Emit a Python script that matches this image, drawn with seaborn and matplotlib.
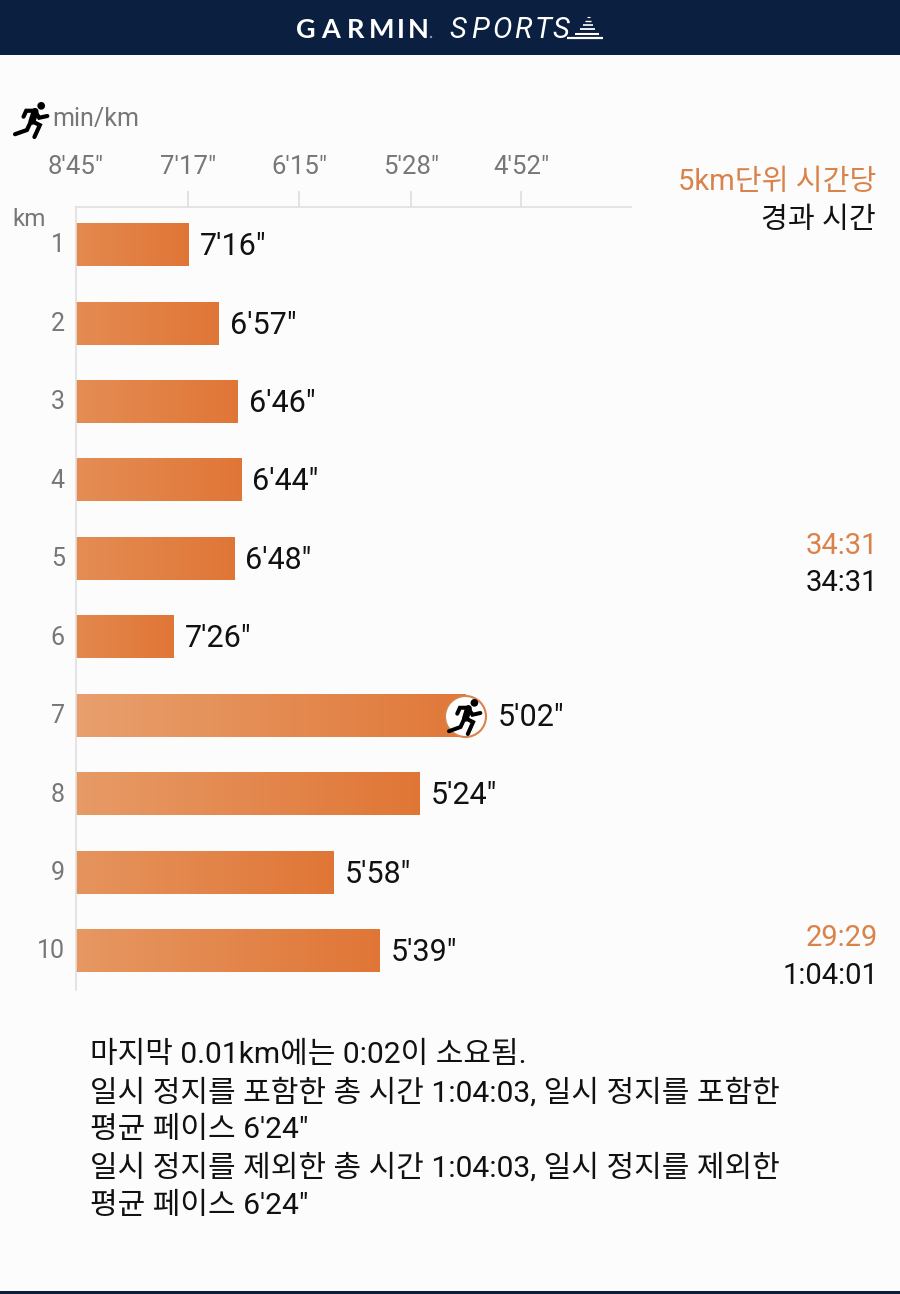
import numpy as np
import pandas as pd
import matplotlib
matplotlib.use("Agg")
import matplotlib.pyplot as plt
import matplotlib.transforms as mtransforms
from matplotlib.patches import Circle, Rectangle
import seaborn as sns

km = ["1", "2", "3", "4", "5", "6", "7", "8", "9", "10"]
pace_labels = ["7'16\"", "6'57\"", "6'46\"", "6'44\"", "6'48\"", "7'26\"", "5'02\"", "5'24\"", "5'58\"", "5'39\""]
pace_sec = [437, 418, 407, 405, 409, 447, 302.5, 325, 359, 340]

tick_labels = ["8'45\"", "7'17\"", "6'15\"", "5'28\"", "4'52\""]
tick_sec = [525, 437, 375, 328, 292]

split_orange = ["34:31", "29:29"]
split_black = ["34:31", "1:04:01"]
notes = [
    "마지막 0.01km에는 0:02이 소요됨.",
    "일시 정지를 포함한 총 시간 1:04:03, 일시 정지를 포함한",
    "평균 페이스 6'24\"",
    "일시 정지를 제외한 총 시간 1:04:03, 일시 정지를 제외한",
    "평균 페이스 6'24\"",
]

BG = "#fcfcfc"
NAVY = "#0b1f41"
ORANGE = np.array([224, 118, 54]) / 255
TAN = np.array([238, 190, 150]) / 255
TEXT_ORANGE = "#d9824a"
GREY = "#777777"
FONT = ["Roboto", "Noto Sans CJK KR", "DejaVu Sans"]

sns.set_theme(style="white")
plt.rcParams["font.family"] = FONT

W, H = 900, 1294
fig = plt.figure(figsize=(W / 100, H / 100), dpi=100, facecolor=BG)


def px_axes(left, top, right, bottom):
    return fig.add_axes([left / W, 1 - bottom / H, (right - left) / W, (bottom - top) / H])


# x axis is linear in speed, the labels are paces
df = pd.DataFrame({"km": km, "speed": 3600 / np.array(pace_sec)})
tick_pos = 3600 / np.array(tick_sec)
x0 = tick_pos[0]
px_per_unit = (521 - 76) / (tick_pos[4] - tick_pos[0])
x1 = x0 + (631 - 76) / px_per_unit

ax = px_axes(76, 207, 631, 990)
ax.set_facecolor("none")
sns.barplot(data=df, x="speed", y="km", orient="y", width=0.54, color=ORANGE, saturation=1, ax=ax)
ax.set_xlabel("")
ax.set_ylabel("")

# gradient fill per bar, long bars start lighter
bars = ax.containers[0]
for patch in bars:
    end = patch.get_width()
    ypos, h = patch.get_y(), patch.get_height()
    fade = 0.15 + 0.35 * (end - x0) / (tick_pos[3] - x0)
    t = np.linspace(fade, 0, 256)[None, :, None]
    rgb = ORANGE * (1 - t) + TAN * t
    ax.imshow(rgb, extent=(x0, end, ypos + h, ypos), aspect="auto", zorder=2)
    patch.set_facecolor("none")
    patch.set_edgecolor("none")
ax.set_xlim(x0, x1)
ax.set_ylim(9.497, -0.484)

value_labels = ax.bar_label(bars, labels=pace_labels, padding=8, fontsize=22, color="#111111", family=FONT, zorder=5)
for t in value_labels:
    t.xyann = (8, -1.2)

for s in ["right", "bottom"]:
    ax.spines[s].set_visible(False)
for s in ["left", "top"]:
    ax.spines[s].set_color("#e0e0e0")
    ax.spines[s].set_linewidth(1.2)

ax.xaxis.tick_top()
ax.set_xticks(tick_pos)
ax.set_xticklabels(tick_labels)
ax.tick_params(axis="x", length=11.5, width=1.2, color="#dddddd", pad=9, labelsize=18.5, labelcolor=GREY)
ax.tick_params(axis="y", length=0, pad=8, labelsize=18, labelcolor=GREY)
ax.xaxis.get_major_ticks()[0].tick2line.set_visible(False)
ax.xaxis.get_major_ticks()[0].tick1line.set_visible(False)
shift_up = mtransforms.ScaledTranslation(0, 1.5 / 72, fig.dpi_scale_trans)
for lab in ax.get_yticklabels():
    lab.set_va("center_baseline")
    lab.set_transform(lab.get_transform() + shift_up)

# overlay in image pixels for header, icons and side texts
ov = px_axes(0, 0, W, H)
ov.set_xlim(0, W)
ov.set_ylim(H, 0)
ov.axis("off")
ov.set_facecolor("none")

ov.add_patch(Rectangle((0, 0), W, 55, color=NAVY, lw=0))
ov.add_patch(Rectangle((0, 1291), W, 3, color=NAVY, lw=0))

# logo, letter by letter because of the wide spacing
for ch, xx in zip("GARMIN", [306, 331, 356, 382, 401, 418]):
    ov.text(xx, 30, ch, color="white", fontsize=19.5, fontweight="bold", family="Lato", va="center", ha="center")
ov.add_patch(Circle((431, 37), 1.2, color="#8a96aa", lw=0))
for ch, xx in zip("SPORTS", [458, 480, 502, 523, 543, 561]):
    ov.text(xx, 30, ch, color="white", fontsize=21, style="italic", fontweight="normal", family="Roboto", va="center", ha="center")
for yy, a, b, lw in [(17, 587, 590, 0.8), (21, 585, 591, 1), (25, 583, 593, 1.2), (29, 580, 595, 1.3), (34, 575, 599, 1.5), (38, 567, 603, 1.6)]:
    ov.plot([a, b], [yy, yy], color="white", lw=lw, solid_capstyle="butt")


def runner(x, y, w, h, lw):
    def line(*pts, width=lw):
        xs = [x + p[0] * w for p in pts]
        ys = [y + p[1] * h for p in pts]
        ov.plot(xs, ys, color="black", lw=width, solid_capstyle="round", solid_joinstyle="miter", zorder=8)
    ov.add_patch(Circle((x + 0.8 * w, y + 0.11 * h), 0.11 * h, color="black", lw=0, zorder=8))
    line((0.62, 0.27), (0.53, 0.55), width=lw * 1.7)
    line((0.62, 0.25), (0.36, 0.25), (0.28, 0.42))
    line((0.62, 0.27), (0.74, 0.45), (0.98, 0.40))
    line((0.53, 0.55), (0.76, 0.66), (0.6, 1.0))
    line((0.5, 0.55), (0.38, 0.8), (0.03, 0.92))


runner(14, 102, 34, 35, 3)
# the bar end is hidden behind the round badge
ov.add_patch(Rectangle((466, 692), 26, 48, color=BG, lw=0, zorder=6))
ov.add_patch(Circle((465.5, 716.5), 20.5, facecolor="white", edgecolor=TEXT_ORANGE, lw=1.5, zorder=7))
runner(448, 699, 33, 35, 2.9)

ov.text(52, 119, "min/km", color=GREY, fontsize=18, va="center", ha="left")
ov.text(12, 219, "km", color=GREY, fontsize=17.5, va="center", ha="left")

ov.text(876, 182, "5km단위 시간당", color=TEXT_ORANGE, fontsize=21, va="center", ha="right")
ov.text(876, 220, "경과 시간", color="#111111", fontsize=21, va="center", ha="right")
for text, yy in zip(split_orange, [546, 938]):
    ov.text(878, yy, text, color=TEXT_ORANGE, fontsize=21, va="center", ha="right")
for text, yy in zip(split_black, [583, 976]):
    ov.text(878, yy, text, color="#111111", fontsize=21, va="center", ha="right")

for text, yy in zip(notes, [1055, 1093, 1130, 1168, 1206]):
    ov.text(90, yy, text, color="#111111", fontsize=21.6, va="center", ha="left")

fig.savefig("out.png", dpi=100, facecolor=BG)
